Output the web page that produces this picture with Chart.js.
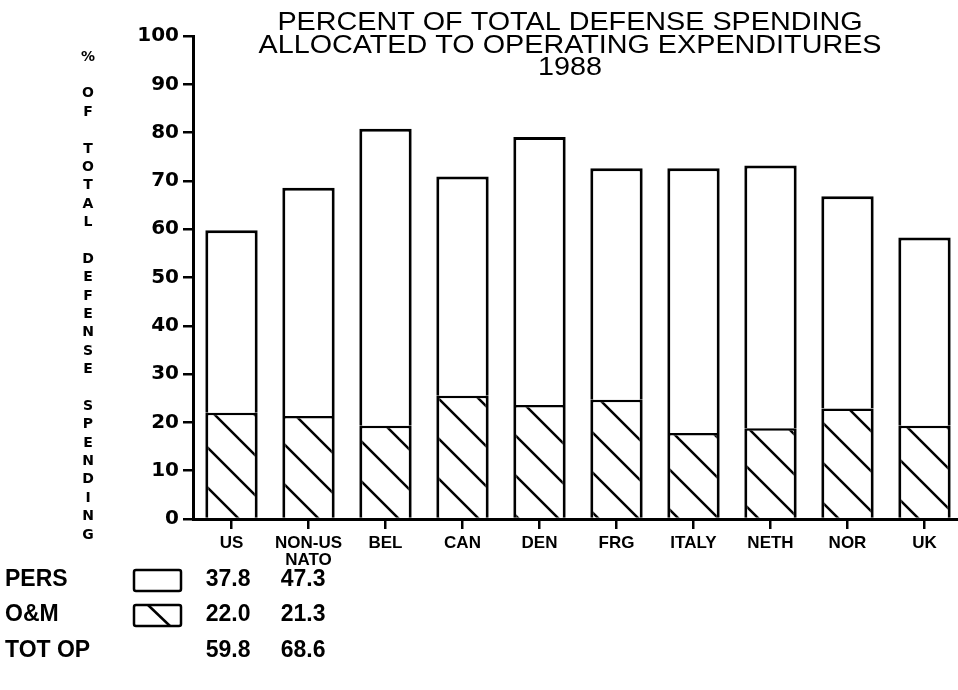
<!DOCTYPE html>
<html>
<head>
<meta charset="utf-8">
<script src="https://cdn.jsdelivr.net/npm/chart.js@4.4.1/dist/chart.umd.min.js"></script>
<style>
  html, body { margin: 0; padding: 0; background: #fff; overflow: hidden; }
  #wrap { width: 966px; height: 690px; }
</style>
</head>
<body>
<div id="wrap"><canvas id="chart" width="966" height="690"></canvas></div>
<script>
// data
const countries = ['US', ['NON-US', 'NATO'], 'BEL', 'CAN', 'DEN', 'FRG', 'ITALY', 'NETH', 'NOR', 'UK'];
const omValues   = [22.0, 21.3, 19.3, 25.5, 23.6, 24.7, 17.8, 18.8, 22.9, 19.3];
const persValues = [37.8, 47.3, 61.5, 45.4, 55.5, 47.9, 54.8, 54.4, 43.9, 39.0];
const yMin = 0, yMax = 100, yStep = 10;
const titleLines = ['PERCENT OF TOTAL DEFENSE SPENDING', 'ALLOCATED TO OPERATING EXPENDITURES', '1988'];
const axisTitle = '% OF TOTAL DEFENSE SPENDING';
const tableRows = ['PERS', 'O&M', 'TOT OP'];
const tableCols = 2; // only US and NON-US NATO are listed under the chart

const FONT = '"Liberation Sans", Arial, Helvetica, sans-serif';

function hatchPattern() {
  const c = document.createElement('canvas');
  c.width = 40; c.height = 40;
  const g = c.getContext('2d');
  g.fillStyle = '#fff';
  g.fillRect(0, 0, 40, 40);
  g.strokeStyle = '#000';
  g.lineWidth = 2.5;
  g.beginPath(); g.moveTo(-5, -5); g.lineTo(45, 45); g.stroke();
  g.beginPath(); g.moveTo(35, -5); g.lineTo(45, 5); g.stroke();
  g.beginPath(); g.moveTo(-5, 35); g.lineTo(5, 45); g.stroke();
  return g.createPattern(c, 'repeat');
}

const annotate = {
  id: 'annotate',
  afterDraw(chart) {
    const { ctx, scales } = chart;
    ctx.save();
    ctx.fillStyle = '#000';
    ctx.strokeStyle = '#000';

    // title, a little widened like the old plotter font
    ctx.textAlign = 'center';
    ctx.textBaseline = 'alphabetic';
    ctx.font = '25px ' + FONT;
    ctx.save();
    ctx.translate(570, 0);
    ctx.scale(1.15, 1);
    titleLines.forEach((t, i) => ctx.fillText(t, 0, 30 + i * 22.5));
    ctx.restore();

    // stacked vertical axis title
    ctx.font = 'bold 14px "DejaVu Sans", ' + FONT;
    ctx.textBaseline = 'middle';
    const chars = axisTitle.split('');
    const step = (535 - 57) / (chars.length - 1);
    chars.forEach((ch, i) => ctx.fillText(ch, 88, 57 + i * step));

    // table under the chart
    const rowY = [580, 615, 651];
    ctx.font = 'bold 23px ' + FONT;
    ctx.textAlign = 'left';
    tableRows.forEach((r, i) => ctx.fillText(r, 5, rowY[i]));

    ctx.lineWidth = 2.5;
    ctx.beginPath();
    ctx.roundRect(134, rowY[0] - 10, 47, 21, 2);
    ctx.stroke();
    ctx.beginPath();
    ctx.roundRect(134, rowY[1] - 10, 47, 21, 2);
    ctx.stroke();
    ctx.beginPath();
    ctx.moveTo(148, rowY[1] - 10);
    ctx.lineTo(170, rowY[1] + 11);
    ctx.stroke();

    ctx.textAlign = 'right';
    for (let i = 0; i < tableCols; i++) {
      const x = scales.x.getPixelForValue(i) + 19 - i * 2;
      ctx.fillText(persValues[i].toFixed(1), x, rowY[0]);
      ctx.fillText(omValues[i].toFixed(1), x, rowY[1]);
      ctx.fillText((persValues[i] + omValues[i]).toFixed(1), x, rowY[2]);
    }
    ctx.restore();
  }
};

new Chart(document.getElementById('chart'), {
  type: 'bar',
  data: {
    labels: countries,
    datasets: [
      {
        label: 'O&M',
        data: omValues,
        backgroundColor: hatchPattern(),
        borderColor: '#000',
        borderWidth: { top: 2.5, left: 3, right: 3, bottom: 0 },
        borderSkipped: false
      },
      {
        label: 'PERS',
        data: persValues,
        backgroundColor: '#fff',
        borderColor: '#000',
        borderWidth: { top: 3, left: 3, right: 3, bottom: 0 },
        borderSkipped: false
      }
    ]
  },
  options: {
    responsive: false,
    animation: false,
    barPercentage: 0.68,
    categoryPercentage: 1,
    layout: { padding: { top: 36, right: 3, left: 0, bottom: 0 } },
    plugins: {
      legend: { display: false },
      tooltip: { enabled: false }
    },
    scales: {
      x: {
        stacked: true,
        afterFit: (s) => { s.height = 171; },
        border: { color: '#000', width: 3 },
        grid: { offset: false, drawOnChartArea: false, tickLength: 10, color: '#000', lineWidth: 2.5 },
        ticks: {
          autoSkip: false, maxRotation: 0, color: '#000', padding: 6,
          font: { family: FONT, size: 17, weight: 'bold', lineHeight: 1.0 }
        }
      },
      y: {
        stacked: true,
        min: yMin, max: yMax,
        afterFit: (s) => { s.width = 193; },
        border: { color: '#000', width: 3 },
        grid: { drawOnChartArea: false, tickLength: 10, color: '#000', lineWidth: 2.5 },
        ticks: {
          stepSize: yStep, color: '#000', padding: 4,
          font: { family: '"DejaVu Sans", ' + FONT, size: 20, weight: 'bold' }
        }
      }
    }
  },
  plugins: [annotate]
});
</script>
</body>
</html>
